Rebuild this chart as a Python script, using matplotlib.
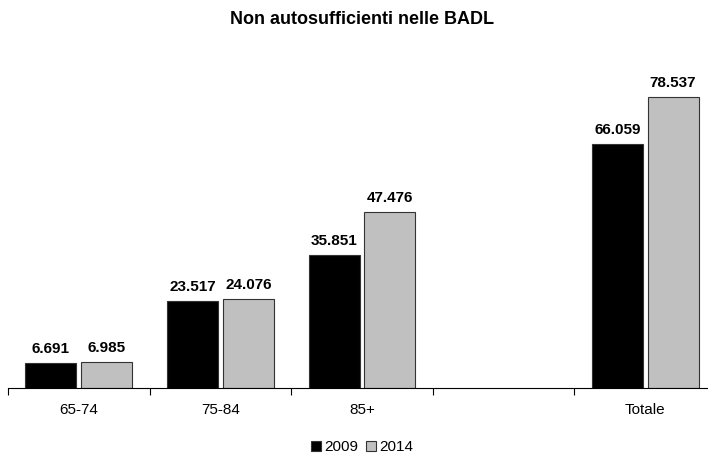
import matplotlib as mpl
mpl.use('Agg')

import matplotlib.pyplot as plt
from matplotlib.patches import Patch
import numpy as np

# data (absolute counts, labels use Italian thousands separator)
categories = ['65-74', '75-84', '85+', '', 'Totale']
values_2009 = [6691, 23517, 35851, None, 66059]
values_2014 = [6985, 24076, 47476, None, 78537]
series_names = ['2009', '2014']

plt.rcParams['font.family'] = ['Liberation Sans', 'DejaVu Sans']

BAR_W = 0.36
OFFSET = 0.197
COLORS = ['#000000', '#c0c0c0']
CENTER_X = 362 / 708


def fmt(v):
    return f'{v:,}'.replace(',', '.')


fig = plt.figure(figsize=(7.08, 4.55), dpi=100)
ax = fig.add_axes([8 / 708, 67 / 455, 708 / 708, 333 / 455])

x = np.arange(len(categories))
for i, (vals, color) in enumerate(zip([values_2009, values_2014], COLORS)):
    xs = [xi for xi, v in zip(x, vals) if v is not None]
    ys = [v for v in vals if v is not None]
    pos = np.array(xs) + (-OFFSET if i == 0 else OFFSET)
    ax.bar(pos, ys, width=BAR_W, color=color, edgecolor='#333333',
           linewidth=0.8, zorder=2)
    for px, v in zip(pos, ys):
        ax.annotate(fmt(v), (px, v), xytext=(0, 5), textcoords='offset points',
                    ha='center', va='bottom', fontsize=11, fontweight='bold')

ax.set_xlim(-0.5, len(categories) - 0.5)
ax.set_ylim(0, 90000)

# category labels centred, tick marks at the category boundaries
ax.set_xticks(x)
ax.set_xticklabels(categories, fontsize=11)
ax.tick_params(axis='x', which='major', length=0, pad=11)
ax.set_xticks(np.arange(-0.5, len(categories)), minor=True)
ax.tick_params(axis='x', which='minor', length=5, width=0.8, direction='out')

ax.set_yticks([])
for side in ['left', 'right', 'top']:
    ax.spines[side].set_visible(False)
ax.spines['bottom'].set_linewidth(0.8)

fig.text(CENTER_X, 1 - 19 / 455, 'Non autosufficienti nelle BADL',
         ha='center', va='center', fontsize=13, fontweight='bold')

handles = [Patch(facecolor=c, edgecolor='#333333', linewidth=0.8)
           for c in COLORS]
fig.legend(handles, series_names, loc='center', ncol=2,
           bbox_to_anchor=(CENTER_X, 1 - 447 / 455), frameon=False,
           fontsize=11, handlelength=0.65, handleheight=0.65,
           handletextpad=0.2, columnspacing=0.5, borderpad=0)

fig.savefig('out.png', dpi=100)
plt.close()
